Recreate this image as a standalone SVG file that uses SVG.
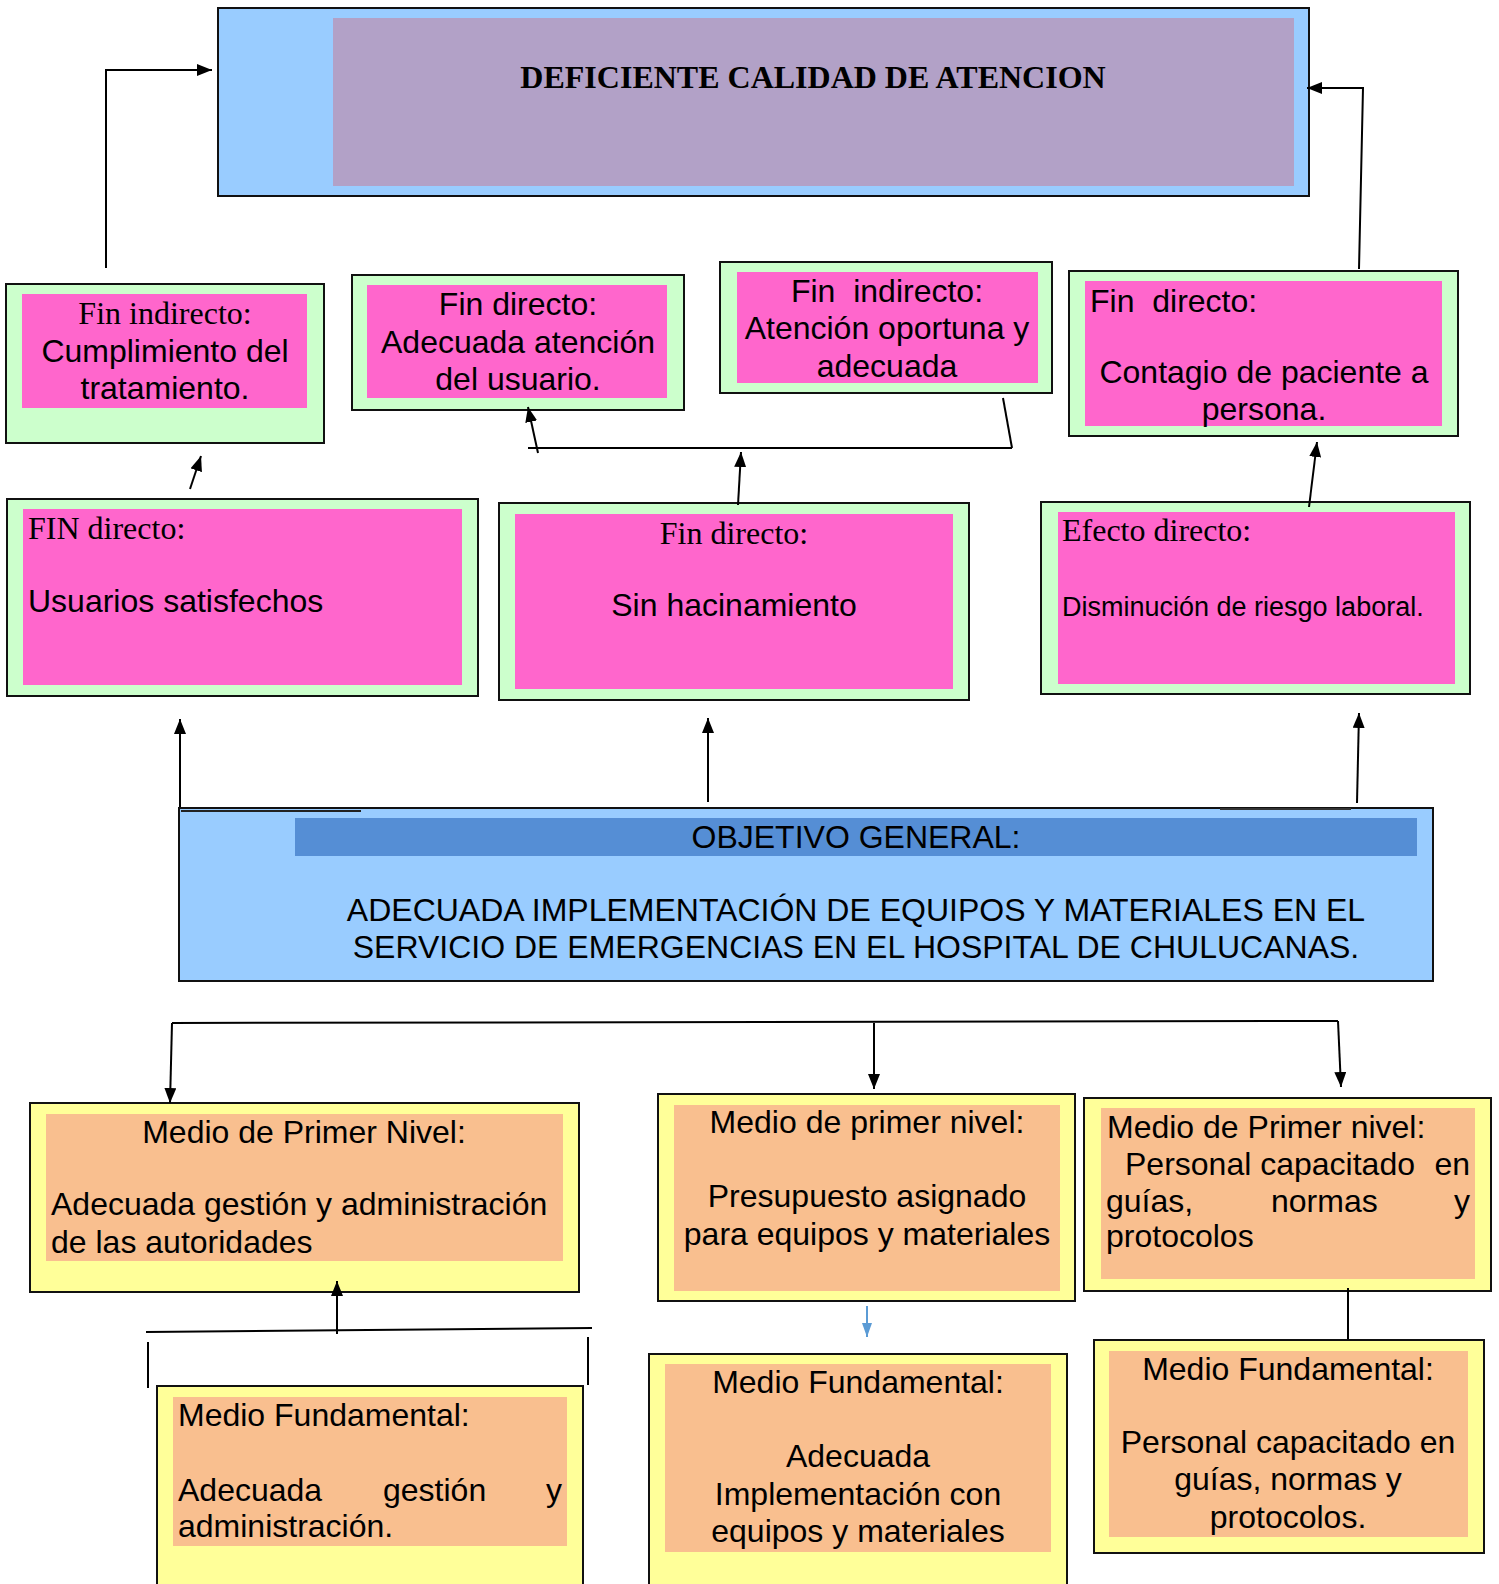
<svg xmlns="http://www.w3.org/2000/svg" width="1499" height="1584" viewBox="0 0 1499 1584">
<style>
.ob{stroke:#111;stroke-width:2}
.g{fill:#CCFFCC}
.p{fill:#FF66CC}
.y{fill:#FFFF99}
.o{fill:#F9BF8F}
.s{font-family:"Liberation Sans",Arial,sans-serif;font-size:32px;fill:#000}
.t{font-family:"Liberation Serif","Times New Roman",serif;font-size:32px;fill:#000}
.sm{font-size:27px}
.c{text-anchor:middle}
.e{text-anchor:end}
.ln{fill:none;stroke:#000;stroke-width:2}
</style>
<defs>
<marker id="ah" viewBox="0 0 15 12" refX="15" refY="6" markerWidth="15" markerHeight="12" markerUnits="userSpaceOnUse" orient="auto">
<path d="M0,0 L15,6 L0,12 z" fill="#000"/>
</marker>
<marker id="ahb" viewBox="0 0 14 10" refX="14" refY="5" markerWidth="14" markerHeight="10" markerUnits="userSpaceOnUse" orient="auto">
<path d="M0,0 L14,5 L0,10 z" fill="#5B9BD5"/>
</marker>
</defs>

<g id="problema">
<rect x="218" y="8" width="1091" height="188" fill="#99CCFF" class="ob"/>
<rect x="333" y="18" width="961" height="168" fill="#B2A1C7"/>
<text x="813" y="88" class="t c" font-weight="bold">DEFICIENTE CALIDAD DE ATENCION</text>
</g>

<g id="fin-indirecto-cumplimiento">
<rect x="6" y="284" width="318" height="159" class="g ob"/>
<rect x="22" y="294" width="285" height="114" class="p"/>
<text x="165" y="324" class="t c">Fin indirecto:</text>
<text x="165" y="362" class="s c">Cumplimiento del</text>
<text x="165" y="399" class="s c">tratamiento.</text>
</g>

<g id="fin-directo-adecuada">
<rect x="352" y="275" width="332" height="135" class="g ob"/>
<rect x="367" y="285" width="300" height="113" class="p"/>
<text x="518" y="315" class="s c">Fin directo:</text>
<text x="518" y="353" class="s c">Adecuada atención</text>
<text x="518" y="390" class="s c">del usuario.</text>
</g>

<g id="fin-indirecto-oportuna">
<rect x="720" y="262" width="332" height="131" class="g ob"/>
<rect x="737" y="272" width="301" height="111" class="p"/>
<text x="887" y="302" class="s c" xml:space="preserve">Fin  indirecto:</text>
<text x="887" y="339" class="s c">Atención oportuna y</text>
<text x="887" y="377" class="s c">adecuada</text>
</g>

<g id="fin-directo-contagio">
<rect x="1069" y="271" width="389" height="165" class="g ob"/>
<rect x="1085" y="281" width="357" height="145" class="p"/>
<text x="1090" y="312" class="s" xml:space="preserve">Fin  directo:</text>
<text x="1264" y="383" class="s c">Contagio de paciente a</text>
<text x="1264" y="420" class="s c">persona.</text>
</g>

<g id="fin-usuarios">
<rect x="7" y="499" width="471" height="197" class="g ob"/>
<rect x="23" y="509" width="439" height="176" class="p"/>
<text x="28" y="539" class="t">FIN directo:</text>
<text x="28" y="612" class="s">Usuarios satisfechos</text>
</g>

<g id="fin-hacinamiento">
<rect x="499" y="503" width="470" height="197" class="g ob"/>
<rect x="515" y="514" width="438" height="175" class="p"/>
<text x="734" y="544" class="t c">Fin directo:</text>
<text x="734" y="616" class="s c">Sin hacinamiento</text>
</g>

<g id="efecto-riesgo">
<rect x="1041" y="502" width="429" height="192" class="g ob"/>
<rect x="1058" y="512" width="397" height="172" class="p"/>
<text x="1062" y="541" class="t">Efecto directo:</text>
<text x="1062" y="616" class="s sm">Disminución de riesgo laboral.</text>
</g>

<g id="objetivo">
<rect x="179" y="808" width="1254" height="173" fill="#99CCFF" class="ob"/>
<rect x="295" y="818" width="1122" height="38" fill="#558ED5"/>
<line x1="181" y1="811" x2="361" y2="811" stroke="#222" stroke-width="2"/>
<line x1="1220" y1="809" x2="1351" y2="809" stroke="#333" stroke-width="2"/>
<text x="856" y="848" class="s c">OBJETIVO GENERAL:</text>
<text x="856" y="921" class="s c">ADECUADA IMPLEMENTACIÓN DE EQUIPOS Y MATERIALES EN EL</text>
<text x="856" y="958" class="s c">SERVICIO DE EMERGENCIAS EN EL HOSPITAL DE CHULUCANAS.</text>
</g>

<g id="medio-gestion">
<rect x="30" y="1103" width="549" height="189" class="y ob"/>
<rect x="46" y="1114" width="517" height="147" class="o"/>
<text x="304" y="1143" class="s c">Medio de Primer Nivel:</text>
<text x="51" y="1215" class="s">Adecuada gestión y administración</text>
<text x="51" y="1253" class="s">de las autoridades</text>
</g>

<g id="medio-presupuesto">
<rect x="658" y="1094" width="417" height="207" class="y ob"/>
<rect x="674" y="1105" width="386" height="186" class="o"/>
<text x="867" y="1133" class="s c">Medio de primer nivel:</text>
<text x="867" y="1207" class="s c">Presupuesto asignado</text>
<text x="867" y="1245" class="s c">para equipos y materiales</text>
</g>

<g id="medio-personal">
<rect x="1084" y="1098" width="407" height="193" class="y ob"/>
<rect x="1101" y="1108" width="374" height="171" class="o"/>
<text x="1107" y="1138" class="s">Medio de Primer nivel:</text>
<text x="1125" y="1175" class="s">Personal capacitado</text>
<text x="1470" y="1175" class="s e">en</text>
<text x="1106" y="1212" class="s">guías,</text>
<text x="1271" y="1212" class="s">normas</text>
<text x="1470" y="1212" class="s e">y</text>
<text x="1106" y="1247" class="s">protocolos</text>
</g>

<g id="fundamental-gestion">
<rect x="157" y="1386" width="426" height="210" class="y ob"/>
<rect x="173" y="1397" width="394" height="149" class="o"/>
<text x="178" y="1426" class="s">Medio Fundamental:</text>
<text x="178" y="1501" class="s">Adecuada</text>
<text x="383" y="1501" class="s">gestión</text>
<text x="562" y="1501" class="s e">y</text>
<text x="178" y="1537" class="s">administración.</text>
</g>

<g id="fundamental-equipos">
<rect x="649" y="1354" width="418" height="242" class="y ob"/>
<rect x="665" y="1364" width="386" height="188" class="o"/>
<text x="858" y="1393" class="s c">Medio Fundamental:</text>
<text x="858" y="1467" class="s c">Adecuada</text>
<text x="858" y="1505" class="s c">Implementación con</text>
<text x="858" y="1542" class="s c">equipos y materiales</text>
</g>

<g id="fundamental-personal">
<rect x="1094" y="1340" width="390" height="213" class="y ob"/>
<rect x="1109" y="1351" width="359" height="186" class="o"/>
<text x="1288" y="1380" class="s c">Medio Fundamental:</text>
<text x="1288" y="1453" class="s c">Personal capacitado en</text>
<text x="1288" y="1490" class="s c">guías, normas y</text>
<text x="1288" y="1528" class="s c">protocolos.</text>
</g>

<g id="connectors">
<polyline points="106,268 106,70 212,70" class="ln" marker-end="url(#ah)"/>
<polyline points="1359,269 1363,88 1307,88" class="ln" marker-end="url(#ah)"/>
<line x1="190" y1="489" x2="201" y2="456" class="ln" marker-end="url(#ah)"/>
<line x1="528" y1="448" x2="1012" y2="448" class="ln"/>
<line x1="1012" y1="448" x2="1003" y2="398" class="ln"/>
<line x1="538" y1="453" x2="528" y2="407" class="ln" marker-end="url(#ah)"/>
<line x1="738" y1="505" x2="741" y2="452" class="ln" marker-end="url(#ah)"/>
<line x1="1309" y1="507" x2="1317" y2="442" class="ln" marker-end="url(#ah)"/>
<line x1="180" y1="807" x2="180" y2="719" class="ln" marker-end="url(#ah)"/>
<line x1="708" y1="802" x2="708" y2="718" class="ln" marker-end="url(#ah)"/>
<line x1="1357" y1="803" x2="1359" y2="713" class="ln" marker-end="url(#ah)"/>
<line x1="172" y1="1023" x2="1338" y2="1021" class="ln"/>
<line x1="172" y1="1023" x2="170" y2="1103" class="ln" marker-end="url(#ah)"/>
<line x1="874" y1="1023" x2="874" y2="1089" class="ln" marker-end="url(#ah)"/>
<line x1="1338" y1="1021" x2="1341" y2="1087" class="ln" marker-end="url(#ah)"/>
<line x1="146" y1="1332" x2="592" y2="1328" class="ln"/>
<line x1="148" y1="1342" x2="148" y2="1388" class="ln"/>
<line x1="588" y1="1337" x2="588" y2="1385" class="ln"/>
<line x1="337" y1="1334" x2="337" y2="1281" class="ln" marker-end="url(#ah)"/>
<line x1="867" y1="1306" x2="867" y2="1337" stroke="#5B9BD5" stroke-width="2" marker-end="url(#ahb)"/>
<line x1="1348" y1="1288" x2="1348" y2="1339" class="ln"/>
</g>
</svg>
